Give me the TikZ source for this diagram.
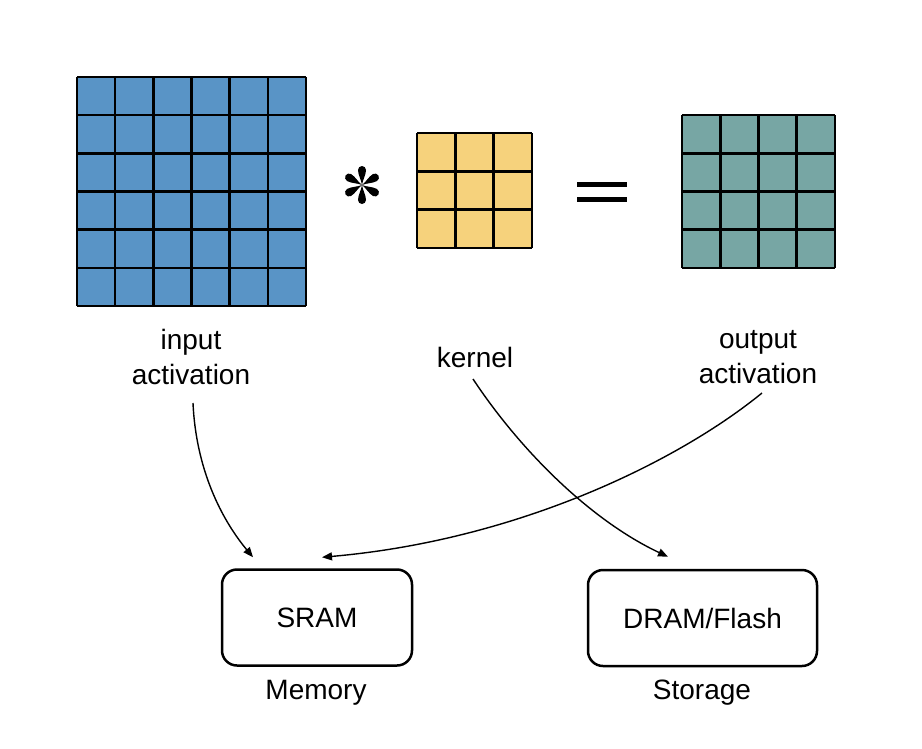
\documentclass[tikz,border=0pt]{standalone}
\usepackage{fontspec}
\setmainfont{Liberation Sans}
\usetikzlibrary{arrows.meta}
\definecolor{inblue}{RGB}{89,148,198}
\definecolor{kyellow}{RGB}{246,210,124}
\definecolor{outteal}{RGB}{119,166,164}
\tikzset{
  lbl/.style={inner sep=0pt, align=center, font=\fontsize{28}{35}\selectfont},
  membox/.style={draw=black, line width=2.5pt, rounded corners=15pt, minimum width=190pt, minimum height=96pt, inner sep=0pt, font=\fontsize{28}{34}\selectfont},
  conn/.style={line width=1.4pt, -{Triangle[length=10pt,width=8pt]}},
  gridline/.style={line width=2.6pt, black}
}
\begin{document}
\begin{tikzpicture}[x=1pt,y=-1pt]
\useasboundingbox (0,0) rectangle (922,748);
% input activation grid 6x6
\fill[inblue] (77,77) rectangle (306,306);
\foreach \i in {0,...,6} {
  \draw[gridline] ({77+\i*38.17},77) -- ({77+\i*38.17},306);
  \draw[gridline] (77,{77+\i*38.17}) -- (306,{77+\i*38.17});
}
% asterisk
\begin{scope}[shift={(362,185)}]
  \foreach \r in {0,60,...,300} {
    \fill[black, rotate=\r] (0,0) .. controls (-0.6,5) and (-4,10) .. (-4,15)
      arc[start angle=180, end angle=0, radius=4] .. controls (4,10) and (0.6,5) .. (0,0) -- cycle;
  }
\end{scope}
% kernel grid 3x3
\fill[kyellow] (417,133) rectangle (532,248);
\foreach \i in {0,...,3} {
  \draw[gridline] ({417+\i*38.33},133) -- ({417+\i*38.33},248);
  \draw[gridline] (417,{133+\i*38.33}) -- (532,{133+\i*38.33});
}
% equals sign
\fill[black] (577,182) rectangle (627,187);
\fill[black] (577,197) rectangle (627,202);
% output grid 4x4
\fill[outteal] (682,115) rectangle (835,268);
\foreach \i in {0,...,4} {
  \draw[gridline] ({682+\i*38.25},115) -- ({682+\i*38.25},268);
  \draw[gridline] (682,{115+\i*38.25}) -- (835,{115+\i*38.25});
}
% labels
\node[lbl] (inlab) at (191,357) {input\\activation};
\node[lbl] (klab) at (475,357) {kernel};
\node[lbl] (outlab) at (758,357) {output\\activation};
% boxes
\node[membox] (sram) at (317,617.5) {SRAM};
\node[membox, minimum width=229pt] (dram) at (702.5,618) {DRAM/Flash};
\node[lbl] (memlab) at (316,693) {Memory};
\node[lbl] (stolab) at (702,693) {Storage};
% connectors
\coordinate (s1) at ([xshift=2pt,yshift=-46pt]inlab.center);
\coordinate (e1) at ([xshift=-64pt,yshift=11pt]sram.north);
\coordinate (s2) at ([xshift=-2pt,yshift=-22pt]klab.center);
\coordinate (e2) at ([xshift=-34.5pt,yshift=12pt]dram.north);
\coordinate (s3) at ([xshift=4pt,yshift=-36pt]outlab.center);
\coordinate (e3) at ([xshift=5pt,yshift=11pt]sram.north);
\draw[conn] (s1) .. controls (196,470) and (222,520) .. (e1);
\draw[conn] (s2) .. controls (520,450) and (590,520) .. (e2);
\draw[conn] (s3) .. controls (680,460) and (520,540) .. (e3);
\end{tikzpicture}
\end{document}
